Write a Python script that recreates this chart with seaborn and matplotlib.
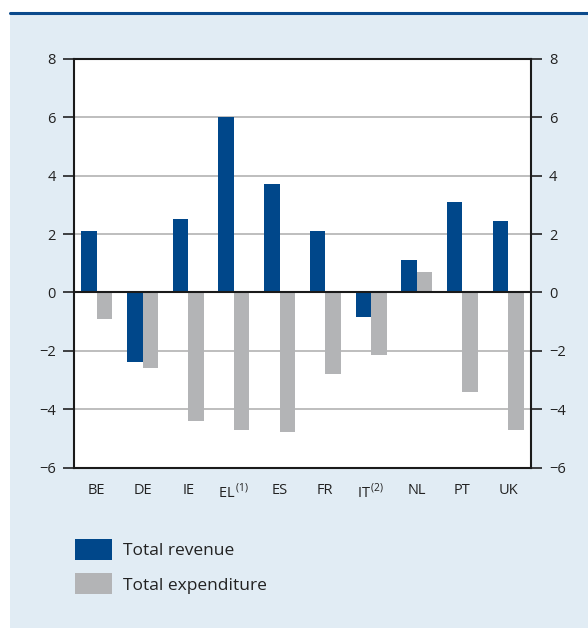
import pandas as pd
import numpy as np
import matplotlib
matplotlib.use("Agg")
import matplotlib.pyplot as plt
import matplotlib.patches as mpatches
from matplotlib.lines import Line2D
import seaborn as sns

# values
countries = ['BE', 'DE', 'IE', 'EL', 'ES', 'FR', 'IT', 'NL', 'PT', 'UK']
tick_labels = ['BE', 'DE', 'IE', r'EL$^{\,(1)}$', 'ES', 'FR', r'IT$^{\,(2)}$', 'NL', 'PT', 'UK']
revenue = [2.1, -2.4, 2.5, 6.0, 3.7, 2.1, -0.85, 1.1, 3.1, 2.45]
expenditure = [-0.9, -2.6, -4.4, -4.7, -4.8, -2.8, -2.15, 0.7, -3.4, -4.7]
series = ['Total revenue', 'Total expenditure']
colors = ['#00478A', '#B3B4B6']

df = pd.DataFrame({
    'country': countries * 2,
    'series': [series[0]] * len(countries) + [series[1]] * len(countries),
    'value': revenue + expenditure,
})

sns.set_style('white')
plt.rcParams['font.family'] = ['Open Sans', 'DejaVu Sans']
plt.rcParams['mathtext.fontset'] = 'custom'
plt.rcParams['mathtext.rm'] = 'Open Sans'

W, H = 588, 628
fig = plt.figure(figsize=(W / 100, H / 100), dpi=100)
fig.patch.set_facecolor('white')

# light blue panel and dark blue rule on top
fig.add_artist(mpatches.Rectangle((10 / W, 0), 1, 1 - 14 / H, transform=fig.transFigure,
                                  facecolor='#E1ECF4', edgecolor='none', zorder=-5))
fig.add_artist(Line2D([10 / W, 1], [1 - 13 / H, 1 - 13 / H], transform=fig.transFigure,
                      color='#0B4A8C', lw=2.2, zorder=-4))

ax = fig.add_axes([74 / W, 1 - 467.5 / H, 457 / W, 408.5 / H])
ax.set_zorder(1)
ax.set_facecolor('white')

sns.barplot(data=df, x='country', y='value', hue='series', hue_order=series,
            order=countries, palette=colors, width=0.68, gap=0, linewidth=0,
            saturation=1, ax=ax, zorder=3)
ax.get_legend().remove()

ax.set_ylim(-6, 8)
ax.set_xlim(-0.5, len(countries) - 0.5)
ax.set_yticks(np.arange(-6, 9, 2))
ax.set_yticklabels([f'{v:d}'.replace('-', '\u2212') for v in np.arange(-6, 9, 2)])
ax.yaxis.grid(True, color='#BEBEBE', lw=1.4, zorder=0)
ax.set_axisbelow(True)
ax.axhline(0, color='#1A1A1A', lw=1.5, zorder=4)

ax.set_xticks(range(len(countries)))
ax.set_xticklabels(tick_labels)
ax.set_xticks(np.arange(0.5, len(countries) - 0.5, 1), minor=True)
ax.tick_params(axis='x', which='major', length=0, pad=11, labelsize=10.5, colors='#222222')
ax.tick_params(axis='x', which='minor', direction='in', length=7.5, width=1.2, color='#1A1A1A')
ax.tick_params(axis='y', which='major', direction='out', length=8, width=1.2, pad=5,
               labelsize=10.5, colors='#222222', left=True, right=True,
               labelleft=True, labelright=True)
ax.set_xlabel('')
ax.set_ylabel('')
for s in ax.spines.values():
    s.set_color('#1A1A1A')
    s.set_linewidth(1.5)
    s.set_visible(True)

handles = [mpatches.Patch(facecolor=c, edgecolor='none') for c in colors]
ax.legend(handles, series, loc='upper left', bbox_to_anchor=(75 / W, 1 - 539 / H),
          bbox_transform=fig.transFigure, frameon=False, fontsize=12.5,
          handlelength=2.15, handleheight=1.5, labelspacing=0.75,
          handletextpad=0.6, borderpad=0, borderaxespad=0, labelcolor='#222222')

fig.savefig('out.png', dpi=100)
